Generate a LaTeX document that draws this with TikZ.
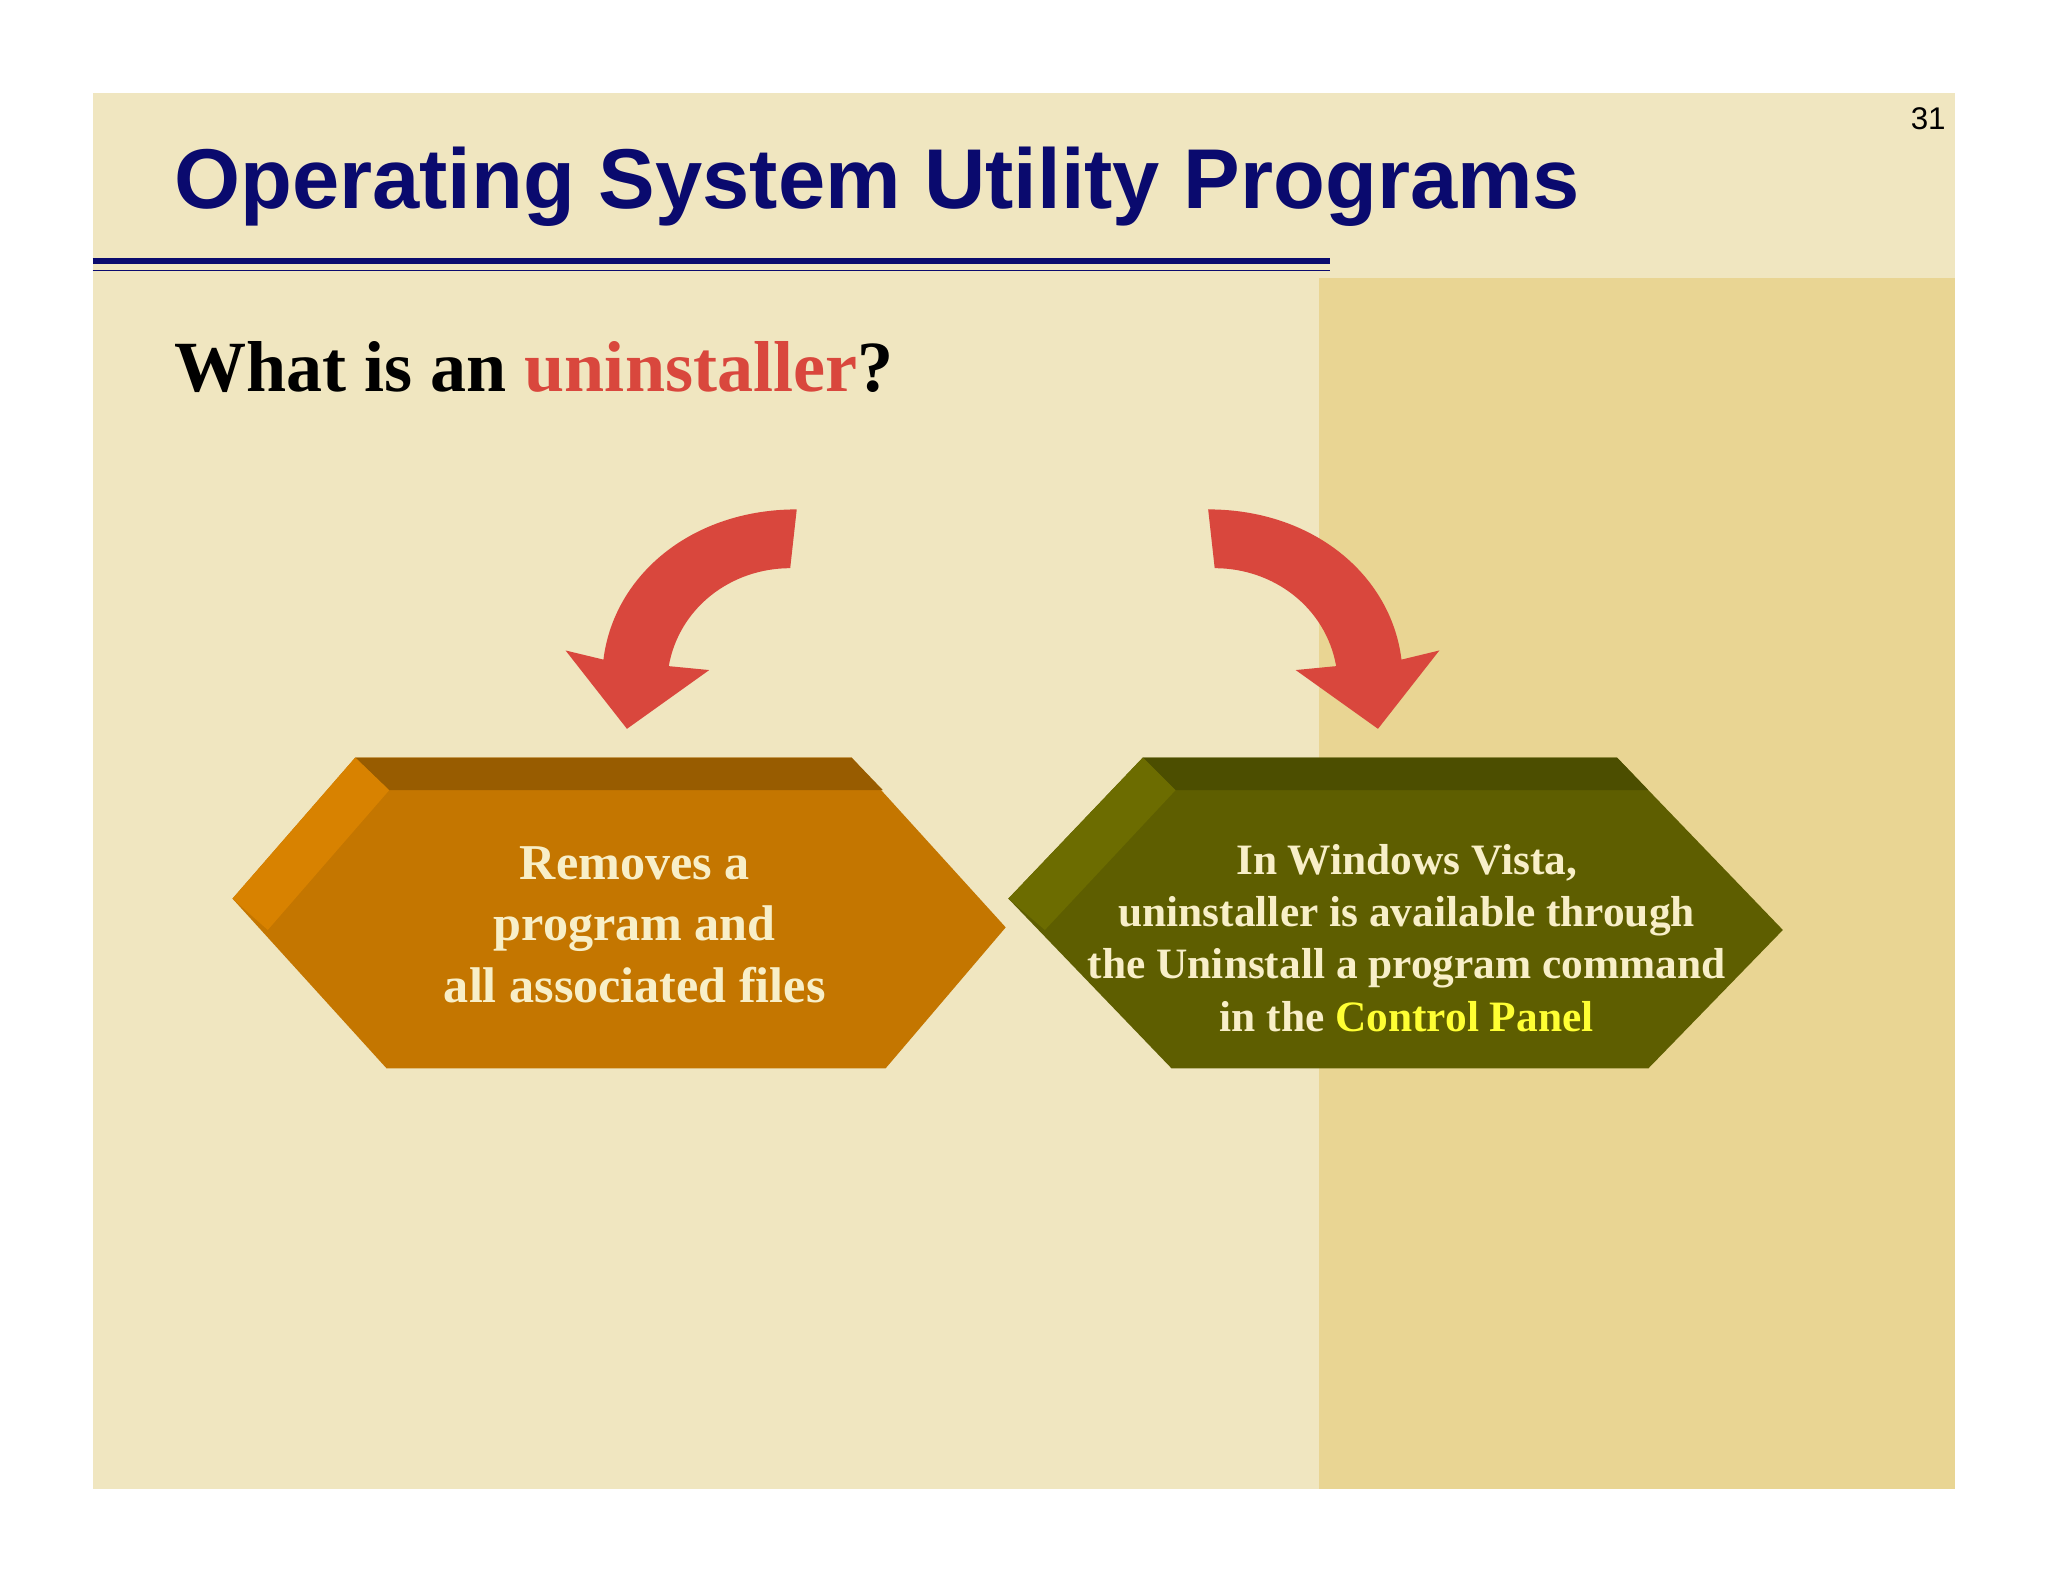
\documentclass[tikz,border=0pt]{standalone}
\usepackage{fontspec}
\setmainfont{Liberation Serif}
\newfontfamily\ttl{Liberation Sans}
\definecolor{bg}{HTML}{F0E6C0}
\definecolor{panel}{HTML}{E9D593}
\definecolor{navy}{HTML}{0A0A6E}
\definecolor{ared}{HTML}{D9473D}
\definecolor{om}{HTML}{C47600}
\definecolor{ot}{HTML}{985C00}
\definecolor{ol}{HTML}{D88200}
\definecolor{gm}{HTML}{5E5E00}
\definecolor{gt}{HTML}{4C4E00}
\definecolor{gl}{HTML}{6C6C00}
\definecolor{cream}{HTML}{F8EFC8}
\definecolor{yel}{HTML}{FFFF33}
\begin{document}
\begin{tikzpicture}[x=0.5pt,y=-0.5pt,
  htxt/.style={text=cream,font=\bfseries,align=center,inner sep=0pt}]
\useasboundingbox (0,0) rectangle (1568,1211);
\fill[white] (0,0) rectangle (1568,1211);
\fill[bg] (71,71) rectangle (1497,1140);
\fill[panel] (1010,213) rectangle (1497,1140);
\node[anchor=base west,text=navy,font=\ttl\bfseries\fontsize{32.5}{36}\selectfont,inner sep=0pt] (title) at (133,160) {Operating System Utility Programs};
\node[anchor=base east,font=\ttl\fontsize{12}{14}\selectfont,inner sep=0pt] (pg) at (1490,99) {31};
\draw[navy,line width=2.5pt] (71,200) -- (1018,200);
\draw[navy,line width=0.6pt] (71,207) -- (1018,207);
\node[anchor=base west,font=\bfseries\fontsize{27.6}{32}\selectfont,inner sep=0pt] (q) at (133,300) {What is an \textcolor{ared}{uninstaller}?};
% arrows
\fill[ared] (610,390) .. controls (530,390) and (470,440) .. (462,505) -- (433,498) -- (480,558) -- (543,513) -- (512,510) .. controls (520,465) and (560,435) .. (605,435) -- cycle;
\fill[ared] (925,390) .. controls (1005,390) and (1065,440) .. (1073,505) -- (1102,498) -- (1055,558) -- (992,513) -- (1023,510) .. controls (1015,465) and (975,435) .. (930,435) -- cycle;
% left hexagon
\fill[om] (272,580) -- (652,580) -- (770,710) -- (678,818) -- (296,818) -- (178,688) -- cycle;
\fill[ot] (272,580) -- (652,580) -- (676,605) -- (298,605) -- cycle;
\fill[ol] (272,580) -- (298,605) -- (205,712) -- (178,688) -- cycle;
% right hexagon
\fill[gm] (875,580) -- (1238,580) -- (1365,712) -- (1262,818) -- (897,818) -- (772,688) -- cycle;
\fill[gt] (875,580) -- (1238,580) -- (1262,605) -- (900,605) -- cycle;
\fill[gl] (875,580) -- (900,605) -- (800,712) -- (772,688) -- cycle;
\node[htxt,font=\bfseries\fontsize{19.2}{23.5}\selectfont] (t1) at (486,708) {Removes a\\program and\\all associated files};
\node[htxt,font=\bfseries\fontsize{16.6}{20}\selectfont] (t2) at (1077,718) {In Windows Vista,\\uninstaller is available through\\the Uninstall a program command\\in the \textcolor{yel}{Control Panel}};
\end{tikzpicture}
\end{document}
